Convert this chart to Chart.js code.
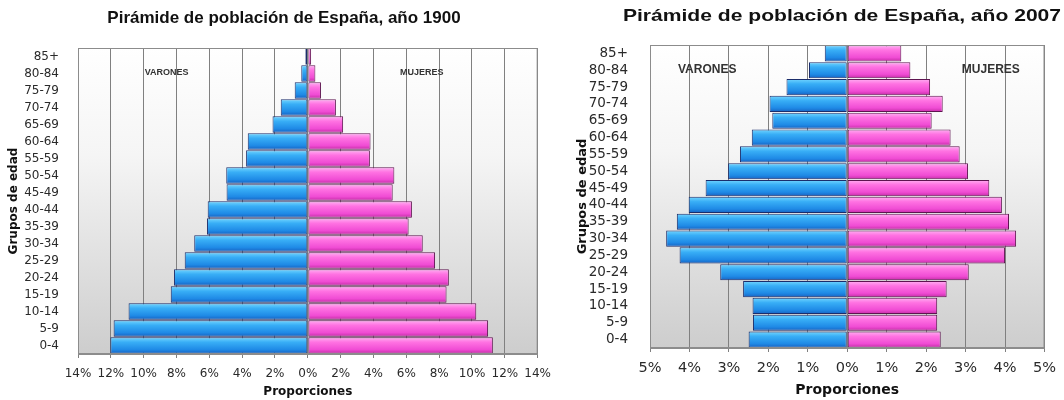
<!DOCTYPE html>
<html>
<head>
<meta charset="utf-8">
<script src="https://cdn.jsdelivr.net/npm/chart.js@4/dist/chart.umd.min.js"></script>
<style>
  html, body { margin: 0; padding: 0; background: #fff; }
  #wrap { position: relative; width: 1064px; height: 400px; overflow: hidden; }
  .pane { position: absolute; top: 0; height: 400px; }
  #left  { left: 0;     width: 560px; }
  #right { left: 560px; width: 504px; }
</style>
</head>
<body>
<div id="wrap">
  <div class="pane" id="left"><canvas id="chart1900"></canvas></div>
  <div class="pane" id="right"><canvas id="chart2007"></canvas></div>
</div>
<script>
// ============================================================
// Pirámides de población de España — 1900 / 2007
// ============================================================

// age groups, top of the pyramid first
const AGE_GROUPS = ['85+', '80-84', '75-79', '70-74', '65-69', '60-64', '55-59', '50-54', '45-49',
                    '40-44', '35-39', '30-34', '25-29', '20-24', '15-19', '10-14', '5-9', '0-4'];

// % of total population
const VARONES_1900 = [0.15, 0.40, 0.80, 1.65, 2.15, 3.66, 3.76, 4.97, 4.95,
                      6.10, 6.14, 6.92, 7.50, 8.15, 8.35, 10.92, 11.83, 12.03];
const MUJERES_1900 = [0.20, 0.46, 0.80, 1.71, 2.15, 3.82, 3.78, 5.27, 5.17,
                      6.34, 6.14, 7.00, 7.75, 8.59, 8.45, 10.26, 10.98, 11.27];

const VARONES_2007 = [0.57, 0.97, 1.54, 1.97, 1.90, 2.42, 2.72, 3.02, 3.59,
                      4.02, 4.32, 4.59, 4.25, 3.22, 2.64, 2.40, 2.39, 2.50];
const MUJERES_2007 = [1.37, 1.60, 2.10, 2.42, 2.14, 2.62, 2.85, 3.06, 3.60,
                      3.92, 4.10, 4.28, 4.00, 3.08, 2.52, 2.28, 2.28, 2.37];

const RANGE_1900 = { max: 14, step: 2 };
const RANGE_2007 = { max: 5,  step: 1 };

const BAR_PCT = 0.96;
const BLUE_STOPS = [[0, '#74d6ff'], [0.3, '#38aef6'], [0.75, '#1f8ae6'], [1, '#1762c2']];
const PINK_STOPS = [[0, '#ffb0f2'], [0.3, '#ff72e2'], [0.75, '#f04cd4'], [1, '#c42ca6']];

function barGradient(stops, fallback) {
  return (c) => {
    const chart = c.chart;
    if (!chart.chartArea || c.type !== 'data') return fallback;
    const y = chart.scales.y;
    const mid = y.getPixelForValue(c.dataIndex);
    const half = y.height / AGE_GROUPS.length * BAR_PCT / 2;
    const g = chart.ctx.createLinearGradient(0, mid - half, 0, mid + half);
    stops.forEach(([o, col]) => g.addColorStop(o, col));
    return g;
  };
}

// plot background + frame + headline + VARONES/MUJERES
const pyramidDecor = {
  id: 'pyramidDecor',
  beforeDraw(chart) {
    const { ctx, chartArea: a } = chart;
    const g = ctx.createLinearGradient(0, a.top, 0, a.bottom);
    g.addColorStop(0, '#ffffff');
    g.addColorStop(0.35, '#f5f5f5');
    g.addColorStop(1, '#cdcdcd');
    ctx.save();
    ctx.fillStyle = g;
    ctx.fillRect(a.left, a.top, a.right - a.left, a.bottom - a.top);
    ctx.restore();
  },
  afterDraw(chart, args, opts) {
    const { ctx, chartArea: a, scales } = chart;
    ctx.save();
    ctx.strokeStyle = '#8c8c8c';
    ctx.lineWidth = 1;
    ctx.strokeRect(a.left + 0.5, a.top + 0.5, a.right - a.left - 1, a.bottom - a.top - 1);

    // headline
    const h = opts.headline;
    ctx.translate(h.x, h.y);
    ctx.scale(h.stretch, 1);
    ctx.font = `bold ${h.size}px "Liberation Sans", Arial, sans-serif`;
    ctx.fillStyle = '#111';
    ctx.textAlign = 'center';
    ctx.textBaseline = 'middle';
    ctx.fillText(h.text, 0, 0);
    ctx.setTransform(1, 0, 0, 1, 0, 0);

    // sex labels
    ctx.font = `bold ${opts.tagSize}px "Liberation Sans", Arial, sans-serif`;
    ctx.fillStyle = '#333';
    ctx.textAlign = 'center';
    ctx.textBaseline = 'middle';
    const ty = scales.y.getPixelForValue(1) - 1;
    ctx.fillText('VARONES', scales.x.getPixelForValue(opts.tagAt[0]), ty);
    ctx.fillText('MUJERES', scales.x.getPixelForValue(opts.tagAt[1]), ty);
    ctx.restore();
  }
};

function makePyramid(canvasId, cfg) {
  const ctx = document.getElementById(canvasId).getContext('2d');
  return new Chart(ctx, {
    type: 'bar',
    data: {
      labels: AGE_GROUPS,
      datasets: [
        {
          label: 'Varones',
          data: cfg.males.map(v => -v),
          backgroundColor: barGradient(BLUE_STOPS, '#2a9cf0'),
          borderColor: '#1b2d6b', borderWidth: 1, borderSkipped: false,
          barPercentage: BAR_PCT, categoryPercentage: 1,
        },
        {
          label: 'Mujeres',
          data: cfg.females,
          backgroundColor: barGradient(PINK_STOPS, '#ff66dd'),
          borderColor: '#5e1450', borderWidth: 1, borderSkipped: false,
          barPercentage: BAR_PCT, categoryPercentage: 1,
        }
      ]
    },
    options: {
      indexAxis: 'y',
      responsive: true, maintainAspectRatio: false, animation: false,
      layout: { padding: cfg.padding },
      plugins: {
        legend: { display: false },
        tooltip: { enabled: false },
        pyramidDecor: cfg.decor,
      },
      scales: {
        x: {
          stacked: true,
          min: -cfg.range.max, max: cfg.range.max,
          afterFit: s => { s.height = cfg.xHeight; },
          ticks: {
            stepSize: cfg.range.step, padding: cfg.xTickPad, color: '#2a2a2a',
            autoSkip: false, maxRotation: 0,
            font: { size: cfg.xTickSize, family: '"DejaVu Sans", sans-serif' },
            callback: v => Math.abs(v) + '%',
          },
          grid: { color: '#808080', tickLength: 4, lineWidth: 1 },
          border: { color: '#8c8c8c' },
          title: {
            display: true, text: 'Proporciones', color: '#111',
            font: { size: cfg.xTitleSize, weight: 'bold', family: '"DejaVu Sans", sans-serif' },
            padding: { top: 0, bottom: cfg.xTitlePad },
          }
        },
        y: {
          stacked: true,
          afterFit: s => { s.width = cfg.yWidth; },
          ticks: {
            padding: cfg.yTickPad, color: '#2a2a2a', autoSkip: false,
            font: { size: cfg.yTickSize, family: '"DejaVu Sans", sans-serif' },
          },
          grid: { display: false },
          border: { color: '#8c8c8c' },
          title: {
            display: true, text: 'Grupos de edad', color: '#111',
            font: { size: cfg.yTitleSize, weight: 'bold', family: '"DejaVu Sans", sans-serif' },
            padding: { top: cfg.yTitlePad, bottom: 0 },
          }
        }
      }
    },
    plugins: [pyramidDecor]
  });
}

document.addEventListener('DOMContentLoaded', () => {
  makePyramid('chart1900', {
    males: VARONES_1900, females: MUJERES_1900, range: RANGE_1900,
    padding: { top: 48, right: 18, bottom: 0, left: 0 },
    yWidth: 78, xHeight: 46,
    xTickPad: 9, xTickSize: 12, xTitleSize: 12, xTitlePad: 1,
    yTickPad: 11, yTickSize: 12, yTitleSize: 12, yTitlePad: 7,
    decor: {
      headline: { text: 'Pirámide de población de España, año 1900', x: 284, y: 18, size: 17, stretch: 1 },
      tagSize: 9, tagAt: [-8.6, 6.94],
    }
  });

  makePyramid('chart2007', {
    males: VARONES_2007, females: MUJERES_2007, range: RANGE_2007,
    padding: { top: 45, right: 15, bottom: 0, left: 0 },
    yWidth: 90, xHeight: 52,
    xTickPad: 8, xTickSize: 14.5, xTitleSize: 14, xTitlePad: 1.5,
    yTickPad: 14, yTickSize: 13.5, yTitleSize: 13, yTitlePad: 15,
    decor: {
      headline: { text: 'Pirámide de población de España, año 2007', x: 282, y: 16.5, size: 17, stretch: 1.24 },
      tagSize: 12, tagAt: [-3.55, 3.64],
    }
  });
});
</script>
</body>
</html>
